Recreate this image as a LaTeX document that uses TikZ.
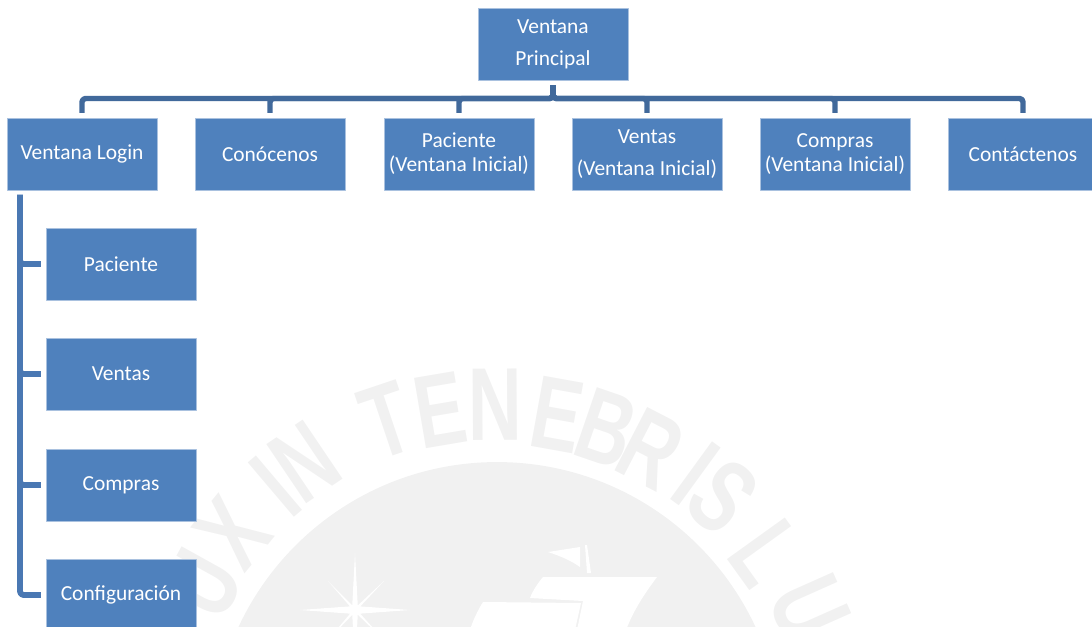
\documentclass[tikz,border=0pt]{standalone}
\usepackage{fontspec}
\setmainfont{Carlito}
\newfontfamily\sealfont{Liberation Sans}
\definecolor{boxblue}{HTML}{4F81BD}
\definecolor{boxedge}{HTML}{A9C1DF}
\definecolor{busblue}{HTML}{41699B}
\definecolor{trunkblue}{HTML}{4A78B3}
\definecolor{sealgray}{HTML}{F1F1F1}
\tikzset{
	ventana/.style={draw=boxedge,fill=boxblue,text=white,line width=.3pt,inner sep=0pt,
		minimum width=3cm,minimum height=1.44cm,align=center,font=\fontsize{12.2}{13.6}\selectfont,
		execute at begin node={\vspace*{1.6pt}}},
	busline/.style={draw=busblue,line width=3.1pt,rounded corners=2pt,line cap=butt,shorten <=2.8pt,shorten >=2.8pt},
	trunkline/.style={draw=trunkblue,line width=3.3pt,rounded corners=2pt,line cap=butt,shorten <=2.8pt,shorten >=2.8pt},
	sealletter/.style={text=sealgray,inner sep=0pt,font=\sealfont\bfseries\fontsize{59}{59}\selectfont}
}
\begin{document}
\begin{tikzpicture}
	[x=.02cm,y=-.02cm,line join=round]
	\useasboundingbox (0,0) rectangle (1092,626);
	\clip (0,0) rectangle (1092,626);
	% sello de fondo
	\coordinate (seal) at (497,747);
	\fill[sealgray] (seal) circle [radius=5.7cm];
	\foreach \ltr/\ang/\rad in {U/-61/336,X/-51/340,I/-40.3/342,N/-34/344,T/-18.6/345,E/-9.6/342,N/-.3/342,
		E/10.2/338,B/18.9/337,R/27.3/335,I/36/338,S/42/337,L/54.3/332,U/66/342}
		\node[sealletter,rotate=-\ang] at ([shift={(seal)}] \ang-90:\rad) {\scalebox{.72}[1]{\ltr}};
	\fill[white] (300,610)--(355,606)--(410,610)--(355,614)--cycle
		(355,553)--(358,610)--(355,667)--(352,610)--cycle
		(328,581)--(356,609)--(384,640)--(354,611)--cycle
		(384,581)--(356,611)--(328,640)--(354,609)--cycle;
	\fill[white] (543,577)--(657,577) .. controls (642,597) and (633,612) .. (626,630)--(577,630)--(583,601)--(530,598) .. controls (533,590) and (538,583) .. (543,577)--cycle
		(483,602)--(581,603)--(575,630)--(470,630) .. controls (473,620) and (478,610) .. (483,602)--cycle
		(548,552)--(580,547)--(580,567) .. controls (570,560) and (560,556) .. (548,552)--cycle
		(585,545)--(587,545)--(591,573)--(587,573)--cycle;
	% ventanas
	\node[ventana] (principal) at (553,44) {Ventana\\[4.5pt]Principal};
	\node[ventana] (login) at (82,154) {Ventana Login};
	\node[ventana] (conocenos) at (270,154) {Conócenos};
	\node[ventana] (paciente) at (459,154) {Paciente\\(Ventana Inicial)};
	\node[ventana] (ventas) at (647,154) {Ventas\\[4.5pt](Ventana Inicial)};
	\node[ventana] (compras) at (835,154) {Compras\\(Ventana Inicial)};
	\node[ventana] (contactenos) at (1023,154) {Contáctenos};
	\node[ventana] (subpaciente) at (121,264) {Paciente};
	\node[ventana] (subventas) at (121,374) {Ventas};
	\node[ventana] (subcompras) at (121,485) {Compras};
	\node[ventana] (configuracion) at (121,595) {Configuración};
	% conectores
	\coordinate (bus) at (553,98.5);
	\coordinate (trunk) at (20,190);
	\foreach \n in {login,conocenos,paciente,ventas,compras,contactenos}
		\draw[busline] (principal.south) -- (bus) -| (\n.north);
	\foreach \n in {subpaciente,subventas,subcompras,configuracion}
		\draw[trunkline] (trunk) |- (\n.west);
\end{tikzpicture}
\end{document}
